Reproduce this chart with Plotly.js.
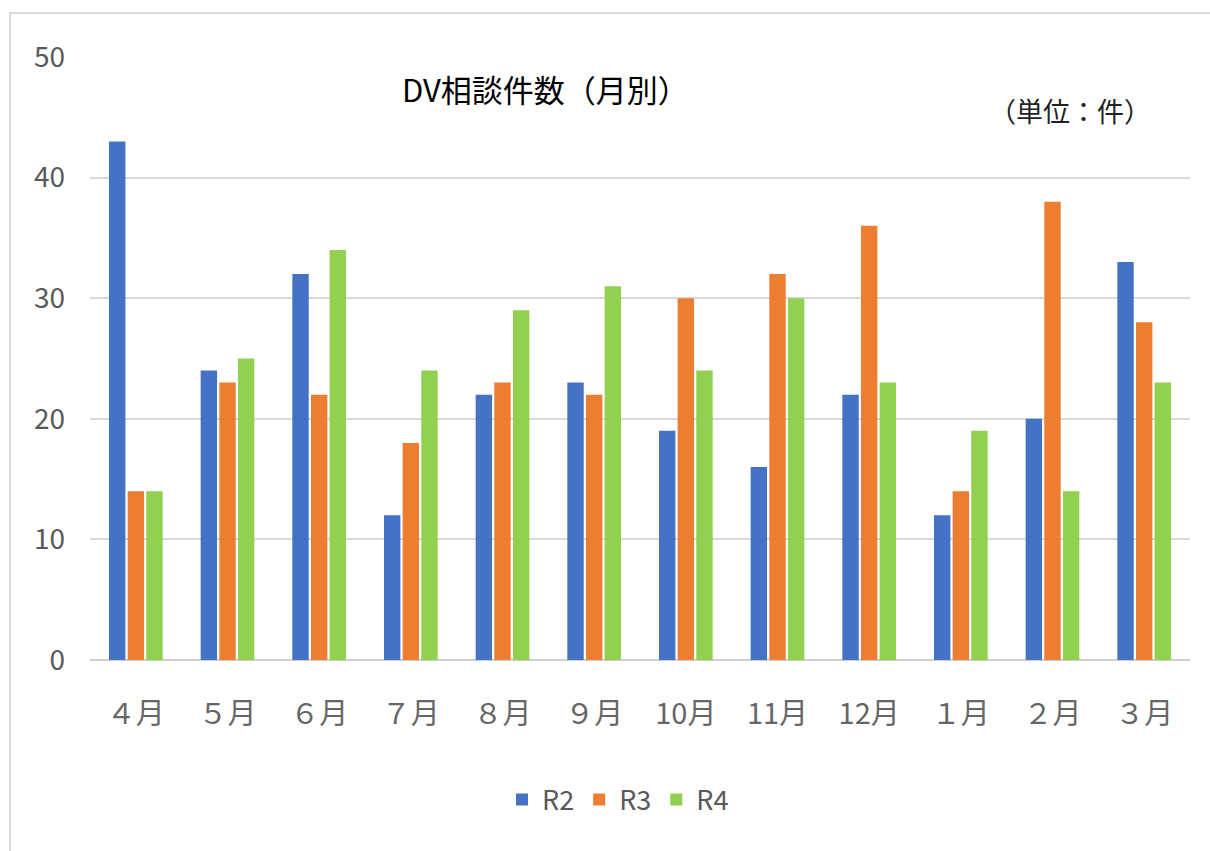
<!DOCTYPE html>
<html>
<head>
<meta charset="utf-8">
<script src="https://cdn.plot.ly/plotly-3.0.1.min.js"></script>
<style>html,body{margin:0;padding:0;background:#fff;}#chart{width:1210px;height:851px;}</style>
</head>
<body>
<div id="chart"></div>
<script>
const months = ["４月","５月","６月","７月","８月","９月","10月","11月","12月","１月","２月","３月"];
const seriesNames = ["R2","R3","R4"];
const r2 = [43,24,32,12,22,23,19,16,22,12,20,33];
const r3 = [14,23,22,18,23,22,30,32,36,14,38,28];
const r4 = [14,25,34,24,29,31,24,30,23,19,14,23];
const colors = ["#4472C4","#ED7D31","#92D050"];
const yTicks = [0,10,20,30,40,50];

const font = "'Noto Sans CJK JP', 'Noto Sans', sans-serif";
const traces = [r2,r3,r4].map((v,i)=>({
  type:"bar", name:seriesNames[i], x:months, y:v,
  marker:{color:colors[i]}, hoverinfo:"x+y+name"
}));

const layout = {
  width:1210, height:851,
  margin:{l:90,r:20,t:57,b:191},
  paper_bgcolor:"#ffffff", plot_bgcolor:"#ffffff",
  font:{family:font,color:"#595959"},
  barmode:"group", bargap:0.39, bargroupgap:0.12,
  showlegend:true,
  legend:{orientation:"h",x:0.48,xanchor:"center",y:-0.232,yanchor:"middle",
    font:{size:27,color:"#595959",family:font}, itemwidth:30, traceorder:"normal"},
  xaxis:{type:"category",showgrid:false,zeroline:false,showline:false,ticks:"",
    tickfont:{size:29,color:"#666666",family:font}, ticklabelstandoff:34},
  yaxis:{range:[0,50],tickvals:yTicks,showgrid:true,gridcolor:"#d9d9d9",gridwidth:2,
    zeroline:true,zerolinecolor:"#d0d0d0",zerolinewidth:2,showline:false,ticks:"",
    tickfont:{size:28,color:"#595959",family:font}, ticklabelstandoff:24},
  annotations:[
    {text:"DV相談件数（月別）",xref:"paper",yref:"paper",x:0.414,y:0.947,
     xanchor:"center",yanchor:"middle",showarrow:false,
     font:{size:31,color:"#000000",family:font}},
    {text:"（単位：件）",xref:"paper",yref:"paper",x:0.891,y:0.912,
     xanchor:"center",yanchor:"middle",showarrow:false,
     font:{size:27,color:"#222222",family:font}}
  ],
  shapes:[
    {type:"rect",xref:"paper",yref:"paper",x0:-0.0727,x1:1.3,y0:-0.6,y1:1.073,
     line:{color:"#d9d9d9",width:2},fillcolor:"rgba(0,0,0,0)",layer:"below"}
  ]
};
Plotly.newPlot("chart",traces,layout,{displayModeBar:false,staticPlot:false});
</script>
</body>
</html>
